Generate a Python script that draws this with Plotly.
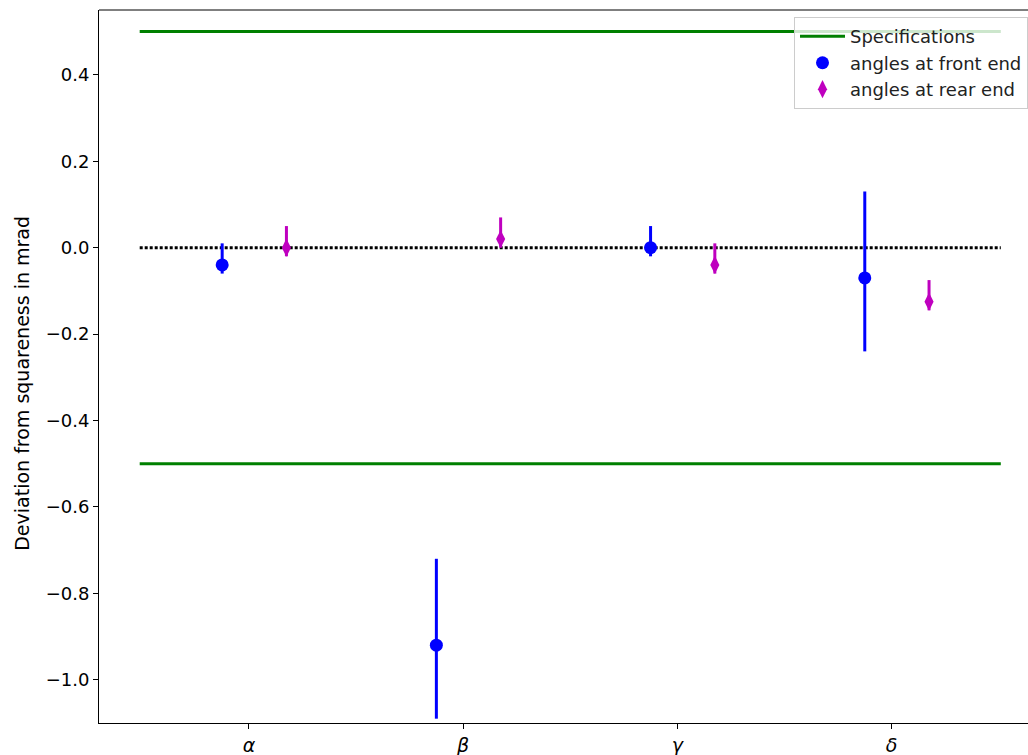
import plotly.graph_objects as go

# Squareness deviations (mrad) for the four corner angles
categories = ["α", "β", "γ", "δ"]
cat_pos = [0, 1, 2, 3]

front_vals = [-0.04, -0.92, 0.0, -0.07]
front_err_plus = [0.05, 0.2, 0.05, 0.2]
front_err_minus = [0.02, 0.17, 0.02, 0.17]

rear_vals = [0.0, 0.02, -0.04, -0.125]
rear_err_plus = [0.05, 0.05, 0.05, 0.05]
rear_err_minus = [0.02, 0.02, 0.02, 0.02]

spec_limit = 0.5
line_span = [-0.51, 3.51]

front_offset = -0.125
rear_offset = 0.175

font_family = "DejaVu Sans"

fig = go.Figure()

# specification band edges
fig.add_trace(go.Scatter(
    x=[line_span[0], line_span[1], None, line_span[0], line_span[1]],
    y=[spec_limit, spec_limit, None, -spec_limit, -spec_limit],
    mode="lines",
    line=dict(color="#008000", width=3),
    name="Specifications",
))

# zero reference
fig.add_trace(go.Scatter(
    x=line_span, y=[0, 0],
    mode="lines",
    line=dict(color="black", width=3, dash="3px,2px"),
    showlegend=False, hoverinfo="skip",
))

fig.add_trace(go.Scatter(
    x=[p + front_offset for p in cat_pos], y=front_vals,
    mode="markers",
    marker=dict(symbol="circle", size=13, color="#0000ff"),
    error_y=dict(type="data", symmetric=False, array=front_err_plus,
                 arrayminus=front_err_minus, color="#0000ff",
                 thickness=3, width=0),
    name="angles at front end",
))

fig.add_trace(go.Scatter(
    x=[p + rear_offset for p in cat_pos], y=rear_vals,
    mode="markers",
    marker=dict(symbol="diamond-tall", size=13, color="#bf00bf"),
    error_y=dict(type="data", symmetric=False, array=rear_err_plus,
                 arrayminus=rear_err_minus, color="#bf00bf",
                 thickness=3, width=0),
    name="angles at rear end",
))

# top spine
fig.add_shape(type="line", xref="paper", yref="paper", x0=0, x1=1, y0=1, y1=1,
              line=dict(color="black", width=1))

# y-axis label
fig.add_annotation(
    text="Deviation from squareness in mrad",
    xref="paper", yref="paper", x=-0.083, y=0.477,
    xanchor="center", yanchor="middle", textangle=-90,
    showarrow=False, font=dict(family=font_family, size=19, color="black"),
)

fig.update_layout(
    width=1028, height=755,
    margin=dict(l=99, r=0, t=10, b=32, autoexpand=False),
    paper_bgcolor="white", plot_bgcolor="white",
    font=dict(family=font_family, size=18, color="black"),
    showlegend=True,
    legend=dict(
        x=1.0, y=0.99, xanchor="right", yanchor="top",
        bgcolor="rgba(255,255,255,0.8)",
        bordercolor="#cccccc", borderwidth=1,
        font=dict(family=font_family, size=18, color="#222"),
        itemwidth=45,
        tracegroupgap=0,
    ),
)

fig.update_xaxes(
    range=[-0.7, 3.637],
    tickmode="array", tickvals=cat_pos,
    ticktext=[f"<i>{c}</i>" for c in categories],
    tickfont=dict(size=19),
    showline=True, linecolor="black", linewidth=1,
    ticks="outside", ticklen=5, tickcolor="black",
    showgrid=False, zeroline=False,
)

fig.update_yaxes(
    range=[-1.1, 0.55],
    tickmode="array", tickvals=[-1.0, -0.8, -0.6, -0.4, -0.2, 0.0, 0.2, 0.4],
    tickformat=".1f",
    showline=True, linecolor="black", linewidth=1,
    ticks="outside", ticklen=5, tickcolor="black",
    showgrid=False, zeroline=False,
)

fig.write_html("out.html")
